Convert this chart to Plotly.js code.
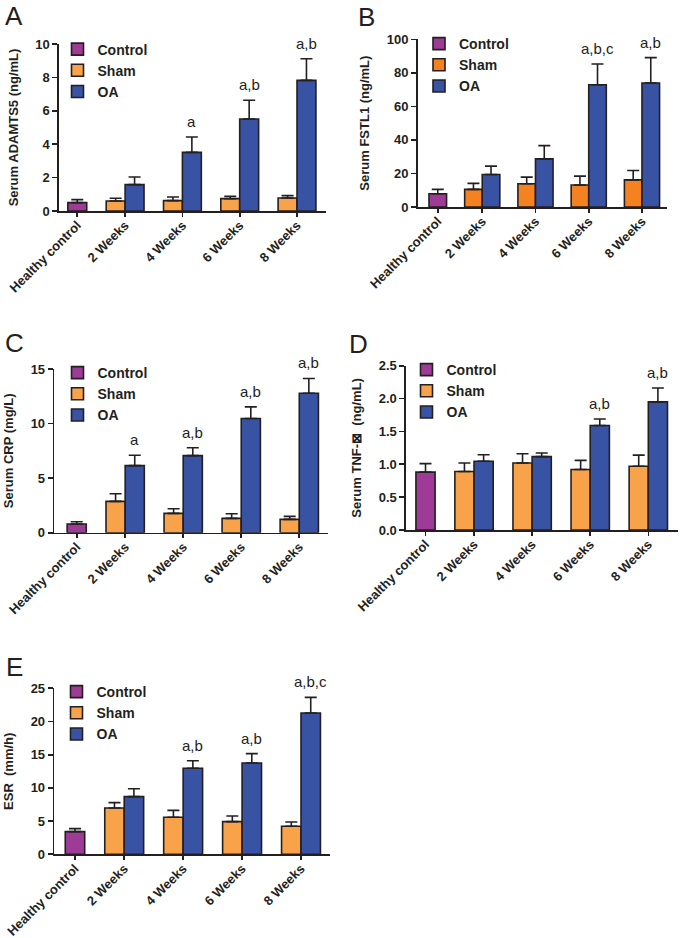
<!DOCTYPE html>
<html>
<head>
<meta charset="utf-8">
<script src="https://cdn.plot.ly/plotly-3.0.1.min.js"></script>
<style>
html,body{margin:0;padding:0;background:#fff;}
#chart{width:680px;height:938px;}
</style>
</head>
<body>
<div id="chart"></div>
<script>
// ---------------- DATA ----------------
const categories = ['Healthy control', '2 Weeks', '4 Weeks', '6 Weeks', '8 Weeks'];
const seriesNames = ['Control', 'Sham', 'OA'];

// A: Serum ADAMTS5 (ng/mL)
const adamtsControl = [0.50];
const adamtsControlErr = [0.18];
const adamtsSham = [0.60, 0.62, 0.74, 0.78];
const adamtsShamErr = [0.16, 0.22, 0.14, 0.14];
const adamtsOA = [1.58, 3.51, 5.51, 7.82];
const adamtsOAErr = [0.46, 0.92, 1.12, 1.30];
const adamtsSig = ['', 'a', 'a,b', 'a,b'];

// B: Serum FSTL1 (ng/mL)
const fstlControl = [7.9];
const fstlControlErr = [2.6];
const fstlSham = [10.5, 13.9, 13.1, 16.2];
const fstlShamErr = [3.6, 3.9, 5.3, 5.6];
const fstlOA = [19.4, 28.7, 72.9, 73.9];
const fstlOAErr = [5.0, 7.9, 12.4, 15.2];
const fstlSig = ['', '', 'a,b,c', 'a,b'];

// C: Serum CRP (mg/L)
const crpControl = [0.80];
const crpControlErr = [0.20];
const crpSham = [2.87, 1.77, 1.31, 1.22];
const crpShamErr = [0.70, 0.43, 0.43, 0.28];
const crpOA = [6.15, 7.06, 10.46, 12.78];
const crpOAErr = [0.95, 0.73, 1.07, 1.35];
const crpSig = ['a', 'a,b', 'a,b', 'a,b'];

// D: Serum TNF (ng/mL)
const tnfControl = [0.88];
const tnfControlErr = [0.13];
const tnfSham = [0.89, 1.02, 0.92, 0.97];
const tnfShamErr = [0.13, 0.14, 0.14, 0.17];
const tnfOA = [1.045, 1.116, 1.59, 1.95];
const tnfOAErr = [0.10, 0.055, 0.10, 0.21];
const tnfSig = ['', '', 'a,b', 'a,b'];

// E: ESR (mm/h)
const esrControl = [3.41];
const esrControlErr = [0.45];
const esrSham = [6.98, 5.57, 4.92, 4.22];
const esrShamErr = [0.80, 1.05, 0.85, 0.65];
const esrOA = [8.68, 12.95, 13.76, 21.29];
const esrOAErr = [1.20, 1.15, 1.40, 2.35];
const esrSig = ['', 'a,b', 'a,b', 'a,b,c'];

// ---------------- LAYOUT CONSTANTS ----------------
const W = 680, H = 938;
const catPos = [0.165, 1, 2, 3, 4];
const barW = 0.33;
const FONT = '"Liberation Sans", Arial, Helvetica, sans-serif';
const INK = '#231f20';
const purple = '#9d3b97';
const blue = '#3953a4';

const panels = [
  {key: 'A', title: 'Serum ADAMTS5 (ng/mL)', c: adamtsControl, ce: adamtsControlErr, s: adamtsSham, se: adamtsShamErr, o: adamtsOA, oe: adamtsOAErr, sig: adamtsSig,
   xd: [59, 326], yd: [44, 211], xr: [-0.154, 4.506], yr: [0, 10], dtick: 2, fmt: '', orange: '#f8a34a',
   leg: [77.5, 50.5], letter: [3, 16]},
  {key: 'B', title: 'Serum FSTL1 (ng/mL)', c: fstlControl, ce: fstlControlErr, s: fstlSham, se: fstlShamErr, o: fstlOA, oe: fstlOAErr, sig: fstlSig,
   xd: [417.7, 667], yd: [39.3, 207], xr: [-0.212, 4.47], yr: [0, 100], dtick: 20, fmt: '', orange: '#f58220',
   leg: [439, 45], letter: [356, 17]},
  {key: 'C', title: 'Serum CRP (mg/L)', c: crpControl, ce: crpControlErr, s: crpSham, se: crpShamErr, o: crpOA, oe: crpOAErr, sig: crpSig,
   xd: [54.3, 328], yd: [369, 532.7], xr: [-0.221, 4.495], yr: [0, 15], dtick: 5, fmt: '', orange: '#f8a34a',
   leg: [77.5, 374], letter: [3, 343]},
  {key: 'D', title: 'Serum TNF-\u22A0\u00A0 (ng/mL)', c: tnfControl, ce: tnfControlErr, s: tnfSham, se: tnfShamErr, o: tnfOA, oe: tnfOAErr, sig: tnfSig,
   xd: [406, 677.7], yd: [365.7, 530], xr: [-0.171, 4.506], yr: [0, 2.5], dtick: 0.5, fmt: '.1f', orange: '#f8a34a',
   leg: [426.5, 371], letter: [347, 344]},
  {key: 'E', title: 'ESR\u00A0 (mm/h)', c: esrControl, ce: esrControlErr, s: esrSham, se: esrShamErr, o: esrOA, oe: esrOAErr, sig: esrSig,
   xd: [54.3, 330], yd: [688.3, 854.3], xr: [-0.186, 4.492], yr: [0, 25], dtick: 5, fmt: '', orange: '#f8a34a',
   leg: [76.5, 693], letter: [4, 667]}
];

const px2x = p => p / W;
const px2y = p => 1 - p / H;

const traces = [];
const annotations = [];
const layout = {
  width: W, height: H,
  margin: {l: 0, r: 0, t: 0, b: 0},
  paper_bgcolor: '#fff', plot_bgcolor: 'rgba(0,0,0,0)',
  barmode: 'overlay',
  font: {family: FONT, color: INK},
  showlegend: true,
  annotations: annotations
};

function errBar(arr) {
  return {type: 'data', array: arr, arrayminus: arr.map(() => 0), symmetric: false,
          color: INK, thickness: 1.6, width: 6};
}

panels.forEach((p, i) => {
  const n = i === 0 ? '' : String(i + 1);
  const xa = 'x' + n, ya = 'y' + n;
  const legName = 'legend' + n;
  const line = {color: INK, width: 1.6};

  traces.push({
    type: 'bar', name: seriesNames[0], x: [catPos[0]], y: p.c,
    xaxis: xa, yaxis: ya, legend: legName,
    width: barW, offset: -barW / 2,
    marker: {color: purple, line: line},
    error_y: errBar(p.ce), hoverinfo: 'y'
  });
  traces.push({
    type: 'bar', name: seriesNames[1], x: catPos.slice(1), y: p.s,
    xaxis: xa, yaxis: ya, legend: legName,
    width: barW, offset: -barW,
    marker: {color: p.orange, line: line},
    error_y: errBar(p.se), hoverinfo: 'y'
  });
  traces.push({
    type: 'bar', name: seriesNames[2], x: catPos.slice(1), y: p.o,
    xaxis: xa, yaxis: ya, legend: legName,
    width: barW, offset: 0,
    marker: {color: blue, line: line},
    error_y: errBar(p.oe), hoverinfo: 'y'
  });

  layout['xaxis' + n] = {
    domain: [px2x(p.xd[0]), px2x(p.xd[1])],
    anchor: ya, range: p.xr, fixedrange: true,
    tickmode: 'array', tickvals: catPos, ticktext: categories,
    tickangle: -45, ticklabelstandoff: -4,
    tickfont: {family: FONT, size: 13, weight: 'bold', color: INK},
    showline: true, linecolor: INK, linewidth: 1.6,
    ticks: 'outside', ticklen: 4, tickwidth: 1.6, tickcolor: INK,
    showgrid: false, zeroline: false
  };
  layout['yaxis' + n] = {
    domain: [px2y(p.yd[1]), px2y(p.yd[0])],
    anchor: xa, range: p.yr, fixedrange: true,
    dtick: p.dtick, tick0: 0, tickformat: p.fmt,
    tickfont: {family: FONT, size: 13, weight: 'bold', color: INK},
    showline: true, linecolor: INK, linewidth: 1.6,
    ticks: 'outside', ticklen: 5, tickwidth: 1.6, tickcolor: INK,
    showgrid: false, zeroline: false,
    title: {text: p.title, standoff: 14, font: {family: FONT, size: 13, weight: 'bold', color: INK}}
  };
  layout[legName] = {
    x: px2x(p.leg[0] - 20), y: px2y(p.leg[1] - 17),
    xanchor: 'left', yanchor: 'top', xref: 'paper', yref: 'paper',
    bgcolor: 'rgba(0,0,0,0)', borderwidth: 0,
    font: {family: FONT, size: 14, weight: 'bold', color: INK},
    traceorder: 'normal', tracegroupgap: 0
  };

  // significance labels above OA bars
  p.sig.forEach((t, k) => {
    if (!t) return;
    annotations.push({
      xref: xa, yref: ya, x: catPos[k + 1] + barW / 2, y: p.o[k] + p.oe[k],
      text: t, showarrow: false, xanchor: 'center', yanchor: 'bottom', yshift: 5,
      font: {family: FONT, size: 15, color: INK}
    });
  });

  // panel letter
  annotations.push({
    xref: 'paper', yref: 'paper', x: px2x(p.letter[0]), y: px2y(p.letter[1]),
    xanchor: 'left', yanchor: 'middle', showarrow: false, text: p.key,
    font: {family: FONT, size: 26, color: INK}
  });
});

Plotly.newPlot('chart', traces, layout, {staticPlot: true, displayModeBar: false});
</script>
</body>
</html>
